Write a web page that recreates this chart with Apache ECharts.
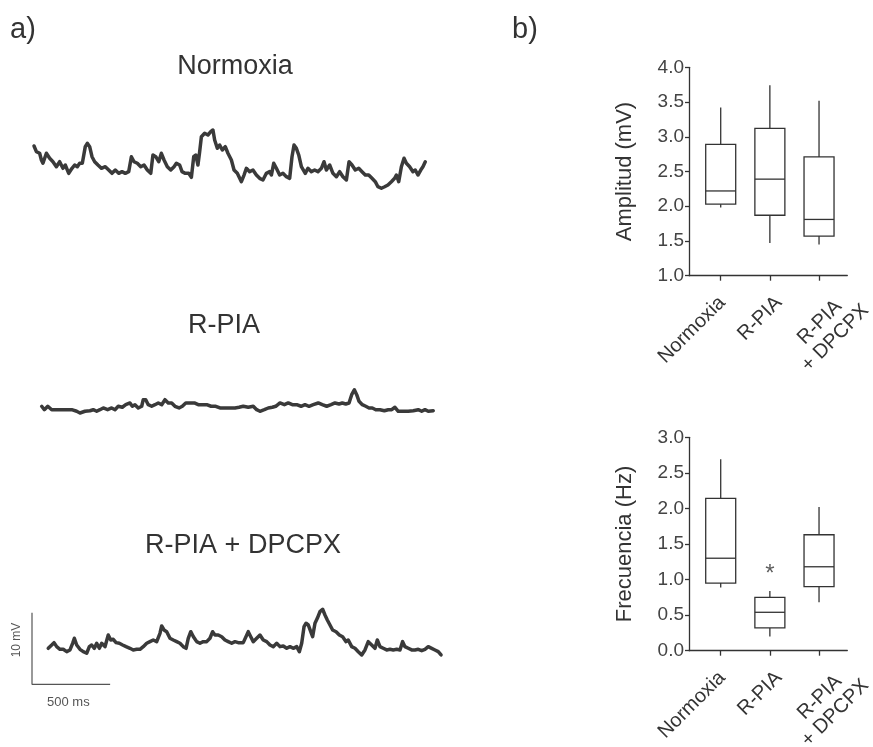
<!DOCTYPE html>
<html><head><meta charset="utf-8">
<script src="https://cdn.jsdelivr.net/npm/echarts@6/dist/echarts.min.js"></script>
<style>html,body{margin:0;padding:0;background:#fff}#c{width:873px;height:747px}</style>
</head><body><div id="c"></div>
<script>
// ---------- DATA ----------
const groups = ['Normoxia', 'R-PIA', 'R-PIA\n+ DPCPX'];
const groupPos = [1, 2, 3];
// box plots: [min, Q1, median, Q3, max]
const ampNormoxia = [1.98, 2.03, 2.22, 2.89, 3.42];
const ampRPIA     = [1.47, 1.87, 2.39, 3.12, 3.74];
const ampDPCPX    = [1.45, 1.57, 1.81, 2.71, 3.52];
const freqNormoxia = [0.89, 0.95, 1.30, 2.14, 2.69];
const freqRPIA     = [0.20, 0.32, 0.54, 0.75, 0.84];
const freqDPCPX    = [0.68, 0.90, 1.18, 1.63, 2.02];
const ampTicks  = [1.0, 1.5, 2.0, 2.5, 3.0, 3.5, 4.0];
const freqTicks = [0.0, 0.5, 1.0, 1.5, 2.0, 2.5, 3.0];
const freqSignificance = [[2, 1.07, '*']];
// scale bar
const scaleBarMs = 500;
const scaleBarMv = 10;
const scaleBarOrigin = [0, -3.4];
// traces: [time (ms), voltage (mV)]
const traceNormoxia = [
[13,6.15],[28,5.35],[49,5.13],[60,4.19],[70,3.73],[92,5.13],[113,4.43],[134,3.95],[156,3.25],[177,3.95],
[198,3.03],[213,3.49],[235,2.33],[256,3.03],[273,3.49],[290,3.25],[305,3.73],[322,3.73],[341,6.05],[354,6.52],
[369,6.05],[384,4.65],[401,3.95],[422,3.49],[444,3.03],[469,3.25],[491,2.79],[512,2.33],[533,2.79],[555,2.33],
[576,2.56],[597,2.33],[619,2.56],[636,4.65],[653,3.95],[674,3.73],[696,3.25],[717,3.49],[738,2.79],[760,2.33],
[774,4.89],[792,4.65],[811,3.95],[828,5.13],[845,4.19],[866,3.25],[888,2.79],[909,3.25],[924,3.73],[945,3.49],
[960,2.56],[981,2.33],[1003,2.33],[1020,1.77],[1035,4.65],[1048,4.89],[1062,3.49],[1073,5.35],[1084,7.44],[1105,7.92],
[1126,7.68],[1144,8.14],[1158,8.38],[1169,6.98],[1186,5.82],[1201,6.28],[1218,5.59],[1237,6.05],[1254,5.13],[1276,4.19],
[1293,2.79],[1314,2.33],[1340,1.16],[1357,2.09],[1372,3.03],[1393,2.56],[1414,2.79],[1436,2.09],[1457,1.63],[1478,1.40],
[1500,2.33],[1521,2.56],[1532,2.09],[1547,3.73],[1564,3.03],[1585,2.09],[1606,2.33],[1628,1.86],[1649,1.63],[1664,4.65],
[1677,6.28],[1692,5.82],[1707,4.89],[1724,3.25],[1749,2.33],[1766,3.03],[1788,2.56],[1809,2.79],[1830,2.56],[1852,3.03],
[1869,3.95],[1884,2.79],[1905,3.49],[1926,2.33],[1948,1.86],[1969,2.56],[1990,1.86],[2012,1.40],[2029,3.95],[2048,3.49],
[2069,2.79],[2091,3.03],[2112,2.56],[2133,2.09],[2155,2.09],[2176,1.63],[2197,1.16],[2214,0.46],[2236,0.24],[2257,0.46],
[2278,0.70],[2300,1.16],[2321,1.63],[2332,2.09],[2347,1.16],[2364,3.25],[2381,4.43],[2396,3.73],[2417,3.25],[2438,2.56],
[2453,2.79],[2470,2.09],[2488,2.79],[2502,3.25],[2517,3.95]
];
const traceRPIA = [
[62,1.22],[79,0.74],[101,1.22],[126,0.74],[158,0.74],[190,0.74],[222,0.74],[254,0.74],[286,0.52],[307,0.28],
[339,0.52],[371,0.60],[392,0.74],[414,0.52],[435,0.74],[456,0.98],[484,0.74],[510,0.98],[531,0.74],[552,1.22],
[578,1.08],[600,1.44],[627,1.68],[642,1.22],[659,1.44],[680,0.98],[702,1.22],[712,2.14],[728,2.14],[744,1.44],
[766,1.22],[787,1.44],[808,1.68],[830,1.44],[851,2.14],[872,1.68],[894,1.68],[915,1.22],[941,0.98],[962,1.22],
[984,1.68],[1011,1.68],[1039,1.68],[1064,1.44],[1090,1.44],[1118,1.44],[1146,1.22],[1176,1.22],[1203,0.98],[1235,0.98],
[1267,0.98],[1299,0.98],[1325,1.08],[1352,1.22],[1384,1.08],[1416,1.22],[1438,0.74],[1459,0.52],[1487,0.74],[1512,0.98],
[1538,1.08],[1560,1.22],[1587,1.68],[1615,1.44],[1640,1.68],[1666,1.44],[1694,1.44],[1722,1.22],[1747,1.44],[1773,1.22],
[1800,1.44],[1832,1.68],[1858,1.44],[1886,1.22],[1914,1.44],[1939,1.68],[1965,1.54],[1986,1.68],[2008,1.54],[2029,1.68],
[2046,2.84],[2063,3.53],[2078,2.84],[2093,1.91],[2114,1.44],[2136,1.22],[2157,0.98],[2178,0.98],[2200,0.74],[2227,0.74],
[2255,0.60],[2280,0.74],[2302,0.74],[2323,1.08],[2344,0.52],[2376,0.52],[2408,0.52],[2440,0.60],[2472,0.74],[2494,0.52],
[2515,0.74],[2536,0.52],[2568,0.60]
];
const traceDPCPX = [
[104,1.63],[126,2.09],[141,2.42],[158,1.86],[179,1.49],[200,1.49],[222,1.16],[243,1.40],[260,2.33],[271,3.03],
[286,2.09],[307,1.49],[328,1.16],[350,0.94],[367,1.86],[382,2.09],[399,1.63],[414,2.33],[431,1.63],[446,2.33],
[467,1.86],[488,3.49],[504,2.79],[520,2.89],[538,2.42],[559,2.33],[580,2.09],[602,1.86],[627,1.63],[648,1.40],
[670,1.49],[691,1.49],[712,1.86],[734,2.33],[755,2.56],[776,2.79],[798,2.56],[819,3.73],[830,4.75],[845,4.19],
[862,3.95],[883,3.03],[904,2.79],[926,2.56],[947,2.33],[968,1.86],[986,1.63],[1000,3.03],[1016,3.95],[1033,3.25],
[1054,2.56],[1075,2.33],[1096,2.56],[1118,2.56],[1139,3.03],[1156,3.95],[1171,3.49],[1192,3.49],[1214,3.25],[1235,2.79],
[1256,2.56],[1278,2.33],[1299,2.56],[1320,2.42],[1352,2.42],[1384,3.95],[1400,3.25],[1416,2.56],[1438,3.03],[1459,3.49],
[1480,2.79],[1502,2.56],[1523,2.09],[1544,1.86],[1566,2.33],[1587,1.86],[1608,1.96],[1630,1.63],[1651,1.86],[1672,1.63],
[1694,1.86],[1711,1.16],[1726,2.33],[1741,4.65],[1754,5.13],[1768,4.89],[1784,3.95],[1796,3.25],[1811,5.13],[1826,5.82],
[1843,6.75],[1860,7.08],[1875,6.28],[1890,5.59],[1907,4.89],[1924,4.19],[1946,3.95],[1967,3.49],[1988,3.25],[2010,2.56],
[2024,2.79],[2046,1.86],[2067,1.63],[2088,1.16],[2110,0.70],[2131,1.40],[2152,2.56],[2174,2.09],[2195,1.63],[2210,2.79],
[2227,1.86],[2248,1.63],[2270,1.40],[2291,1.49],[2312,1.40],[2334,1.49],[2355,1.40],[2372,2.56],[2387,1.86],[2408,1.63],
[2430,1.40],[2451,1.40],[2472,1.49],[2494,1.30],[2515,1.49],[2536,1.86],[2558,1.63],[2579,1.40],[2600,1.16],[2618,0.70]
];

// ---------- CHART ----------
const FONT = 'Liberation Sans';
const INK = '#333';
const chart = echarts.init(document.getElementById('c'), null, {renderer: 'canvas'});

function boxRender(params, api) {
  const x = api.value(0);
  const c = i => api.coord([x, api.value(i)]);
  const pMin = c(1), pQ1 = c(2), pMed = c(3), pQ3 = c(4), pMax = c(5);
  const hw = 15;
  const st = {stroke: INK, lineWidth: 1.3, fill: null};
  return {type: 'group', children: [
    {type: 'line', shape: {x1: pMin[0], y1: pMin[1], x2: pQ1[0], y2: pQ1[1]}, style: st},
    {type: 'line', shape: {x1: pQ3[0], y1: pQ3[1], x2: pMax[0], y2: pMax[1]}, style: st},
    {type: 'rect', shape: {x: pQ3[0] - hw, y: pQ3[1], width: hw * 2, height: pQ1[1] - pQ3[1]}, style: {stroke: INK, lineWidth: 1.3, fill: 'rgba(0,0,0,0)'}},
    {type: 'line', shape: {x1: pMed[0] - hw, y1: pMed[1], x2: pMed[0] + hw, y2: pMed[1]}, style: st}
  ]};
}

// box panels: axis scale 0.355..3.575 over 158.3 px; label-only axes share the scale but extend further right
const BOX_LEFT = 689, BOX_W = 158.3, XMIN = 0.355, XMAX = 3.575;
const PX_PER_UNIT = BOX_W / (XMAX - XMIN);
const LABEL_W = 200, LABEL_XMAX = XMIN + LABEL_W / PX_PER_UNIT;
// per-category label nudges (axis units), layout only
const labelShifts = [0.03, 0.18, 0.79];
const labelValues = groupPos.map((v, i) => v + labelShifts[i]);
function labelName(v) {
  let best = 0;
  labelValues.forEach((lv, i) => { if (Math.abs(lv - v) < Math.abs(labelValues[best] - v)) best = i; });
  return groups[best];
}
function catXAxis(gridIndex) {
  return {
    gridIndex, type: 'value', min: XMIN, max: XMAX,
    axisLine: {show: true, onZero: false, lineStyle: {color: INK, width: 1.3}},
    axisTick: {show: true, customValues: groupPos, length: 5, lineStyle: {color: INK, width: 1.3}},
    axisLabel: {show: false},
    splitLine: {show: false}
  };
}
function labelXAxis(gridIndex) {
  return {
    gridIndex, type: 'value', min: XMIN, max: LABEL_XMAX,
    axisLine: {show: false}, axisTick: {show: false}, splitLine: {show: false},
    axisLabel: {
      show: true, customValues: labelValues, rotate: 45, margin: 24,
      showMinLabel: true, showMaxLabel: true, hideOverlap: false,
      fontFamily: FONT, fontSize: 20, color: INK, lineHeight: 22,
      formatter: v => {
        const name = labelName(v);
        return name.includes('\n') ? name.split('\n').map(s => '{c|' + s + '}').join('\n') : name;
      },
      rich: {c: {align: 'center', fontFamily: FONT, fontSize: 20, color: INK, lineHeight: 22}}
    }
  };
}
function valYAxis(gridIndex, ticks, name) {
  return {
    gridIndex, type: 'value', min: ticks[0], max: ticks[ticks.length - 1], interval: ticks[1] - ticks[0],
    axisLine: {show: true, lineStyle: {color: INK, width: 1.3}},
    axisTick: {show: true, length: 4, lineStyle: {color: INK, width: 1.3}},
    axisLabel: {formatter: v => v.toFixed(1), fontFamily: FONT, fontSize: 19, color: '#444', margin: 5},
    splitLine: {show: false},
    name, nameLocation: 'middle', nameGap: 53,
    nameTextStyle: {fontFamily: FONT, fontSize: 22, color: INK}
  };
}
function hiddenAxis(gridIndex, min, max) {
  return {gridIndex, type: 'value', min, max, show: false};
}
function traceSeries(i, data) {
  return {type: 'line', xAxisIndex: i, yAxisIndex: i, data, showSymbol: false, clip: false,
    lineStyle: {color: '#3a3a3a', width: 3.5, join: 'round', cap: 'round'}, itemStyle: {color: '#3a3a3a'}, z: 3};
}
const txt = (text, x, y, size, extra) => Object.assign({
  type: 'text', x, y,
  style: Object.assign({text, fontFamily: FONT, fontSize: size, fill: INK, align: 'center', verticalAlign: 'middle'}, extra || {})
});
const G = (left, top, width, height) => ({left, top, width, height, outerBoundsMode: 'none', containLabel: false});

chart.setOption({
  animation: false,
  backgroundColor: '#fff',
  grid: [
    G(32, 118.4, 412.5, 71.6),
    G(32, 343.4, 412.5, 71.6),
    G(32, 602.7, 412.5, 85.9),
    G(BOX_LEFT, 67.3, BOX_W, 208.4),
    G(BOX_LEFT, 437.3, BOX_W, 213.4),
    G(BOX_LEFT, 67.3, LABEL_W, 208.4),
    G(BOX_LEFT, 437.3, LABEL_W, 213.4)
  ],
  xAxis: [hiddenAxis(0, 0, 2640), hiddenAxis(1, 0, 2640), hiddenAxis(2, 0, 2640),
    catXAxis(3), catXAxis(4), labelXAxis(5), labelXAxis(6)],
  yAxis: [hiddenAxis(0, 0, 10), hiddenAxis(1, 0, 10), hiddenAxis(2, -4, 8),
    valYAxis(3, ampTicks, 'Amplitud (mV)'), valYAxis(4, freqTicks, 'Frecuencia (Hz)'),
    hiddenAxis(5, 0, 1), hiddenAxis(6, 0, 1)],
  series: [
    traceSeries(0, traceNormoxia),
    traceSeries(1, traceRPIA),
    traceSeries(2, traceDPCPX),
    {type: 'line', xAxisIndex: 2, yAxisIndex: 2, showSymbol: false, clip: false,
      data: [[scaleBarOrigin[0], scaleBarOrigin[1] + scaleBarMv], scaleBarOrigin, [scaleBarOrigin[0] + scaleBarMs, scaleBarOrigin[1]]],
      lineStyle: {color: '#555', width: 1.2}},
    {type: 'custom', xAxisIndex: 3, yAxisIndex: 3, renderItem: boxRender, encode: {x: 0, y: [1, 2, 3, 4, 5]},
      data: [[1].concat(ampNormoxia), [2].concat(ampRPIA), [3].concat(ampDPCPX)]},
    {type: 'custom', xAxisIndex: 4, yAxisIndex: 4, renderItem: boxRender, encode: {x: 0, y: [1, 2, 3, 4, 5]},
      data: [[1].concat(freqNormoxia), [2].concat(freqRPIA), [3].concat(freqDPCPX)]},
    {type: 'scatter', xAxisIndex: 4, yAxisIndex: 4, symbolSize: 0,
      data: freqSignificance.map(d => [d[0], d[1], d[2]]),
      label: {show: true, position: 'inside', formatter: p => p.data[2], fontFamily: FONT, fontSize: 24, color: INK}}
  ],
  graphic: [
    txt('a)', 10, 30, 29, {align: 'left'}),
    txt('b)', 512, 30, 29, {align: 'left'}),
    txt('Normoxia', 235, 67, 27),
    txt('R-PIA', 224, 326, 27),
    txt('R-PIA + DPCPX', 243, 546, 27),
    {type: 'text', x: 17, y: 640, rotation: Math.PI / 2,
      style: {text: '10 mV', fontFamily: FONT, fontSize: 12, fill: '#555', align: 'center', verticalAlign: 'middle'}},
    txt('500 ms', 47, 702, 13, {align: 'left', fill: '#555'})
  ]
});
</script></body></html>
